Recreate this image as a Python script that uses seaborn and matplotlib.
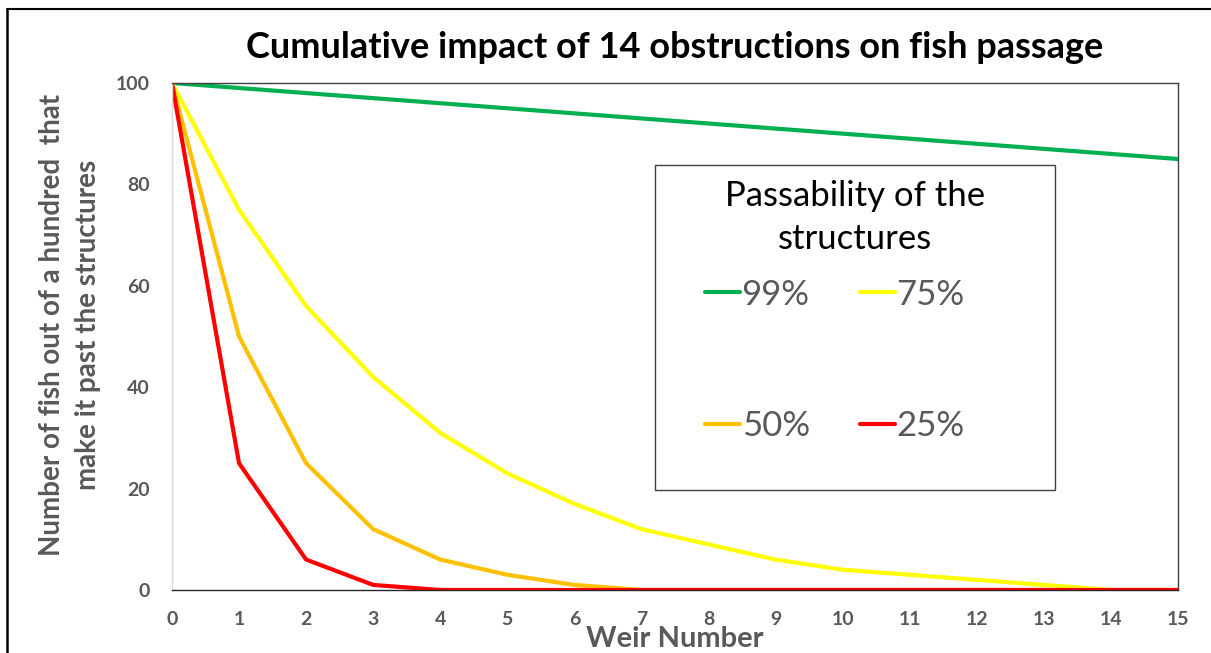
import numpy as np
import pandas as pd
import matplotlib
matplotlib.use("Agg")
import matplotlib.pyplot as plt
from matplotlib.lines import Line2D
from matplotlib.patches import Rectangle
import seaborn as sns

# weir number and fish remaining
weirs = list(range(16))
pass_99 = [100, 99, 98, 97, 96, 95, 94, 93, 92, 91, 90, 89, 88, 87, 86, 85]
pass_75 = [100, 75, 56, 42, 31, 23, 17, 12, 9, 6, 4, 3, 2, 1, 0, 0]
pass_50 = [100, 50, 25, 12, 6, 3, 1, 0, 0, 0, 0, 0, 0, 0, 0, 0]
pass_25 = [100, 25, 6, 1, 0, 0, 0, 0, 0, 0, 0, 0, 0, 0, 0, 0]
series_names = ["99%", "75%", "50%", "25%"]
colors = ["#00B050", "#FFFF00", "#FFC000", "#FF0000"]

df = pd.concat([
    pd.DataFrame({"weir": weirs, "fish": vals, "pass": name})
    for name, vals in zip(series_names, [pass_99, pass_75, pass_50, pass_25])
])

sns.set_theme(style="white")
plt.rcParams["font.family"] = ["Lato", "DejaVu Sans"]
grey = "#595959"

fig = plt.figure(figsize=(12.11, 6.53), dpi=100)
ax = fig.add_axes([0.142, 0.0965, 0.8307, 0.7765])

sns.lineplot(data=df, x="weir", y="fish", hue="pass", palette=colors,
             hue_order=series_names, linewidth=3, ax=ax, legend=False)

ax.set_xlim(0, 15)
ax.set_ylim(0, 100)
ax.set_xticks(range(16))
ax.set_yticks(range(0, 101, 20))
ax.tick_params(axis="x", length=0, pad=15, labelsize=14, labelcolor=grey)
ax.tick_params(axis="y", length=6, width=1, color="#D9D9D9", pad=10,
               labelsize=14, labelcolor=grey)
for lab in ax.get_xticklabels() + ax.get_yticklabels():
    lab.set_fontweight("bold")

ax.spines["left"].set_color("#D9D9D9")
ax.spines["bottom"].set_color("#262626")
ax.spines["top"].set_color("#404040")
ax.spines["right"].set_color("#404040")
for s in ax.spines.values():
    s.set_linewidth(1)

ax.set_xlabel("Weir Number", fontsize=21, fontweight="bold", color=grey, va="top")
ax.xaxis.set_label_coords(0.5, -0.072)
ax.set_ylabel("Number of fish out of a hundred  that\nmake it past the structures",
              fontsize=20, fontweight="bold", color=grey, linespacing=1.45)
ax.yaxis.set_label_coords(-0.071, 0.523)
ax.set_title("Cumulative impact of 14 obstructions on fish passage",
             fontsize=26, fontweight="bold", color="black", pad=18)

# legend box and its title
ax.add_patch(Rectangle((0.48, 0.197), 0.398, 0.641, transform=ax.transAxes,
                       facecolor="white", edgecolor="#404040", linewidth=1, zorder=4))
ax.text(0.679, 0.735, "Passability of the\nstructures", transform=ax.transAxes,
        fontsize=25, color="black", ha="center", va="center",
        multialignment="center", linespacing=1.42, zorder=5)

# legend: rows (99%, 75%) and (50%, 25%)
handles = {n: Line2D([], [], color=c, linewidth=3) for n, c in zip(series_names, colors)}
order = ["99%", "50%", "75%", "25%"]
leg = ax.legend([handles[n] for n in order], order, ncol=2,
                fontsize=25, loc="center", bbox_to_anchor=(0.659, 0.4527),
                frameon=False,
                handlelength=1.0, handletextpad=0.05, columnspacing=1.45,
                labelspacing=2.87, borderpad=0, borderaxespad=0)
leg.set_zorder(5)
for t in leg.get_texts():
    t.set_color(grey)

# outer chart border (left and top only visible)
fig.add_artist(Line2D([7 / 1211, 7 / 1211], [0, 1 - 9 / 653], color="black",
                      linewidth=1.8, transform=fig.transFigure))
fig.add_artist(Line2D([7 / 1211, 1], [1 - 9 / 653, 1 - 9 / 653], color="black",
                      linewidth=1.5, transform=fig.transFigure))

fig.savefig("out.png", dpi=100)
